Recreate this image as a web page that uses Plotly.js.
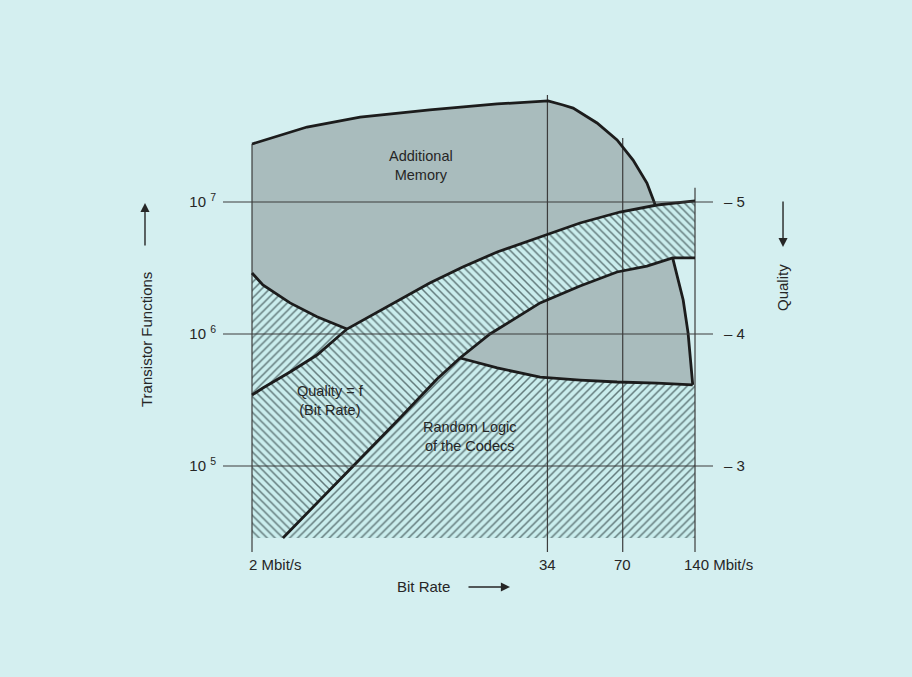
<!DOCTYPE html>
<html>
<head>
<meta charset="utf-8">
<script src="https://cdn.plot.ly/plotly-3.0.1.min.js"></script>
<style>
  html, body { margin: 0; padding: 0; background: #d4eff0; }
  #chart { width: 912px; height: 677px; }
</style>
</head>
<body>
<div id="chart"></div>
<script>
// ---- axis ticks and labels ----
const bitRateTicks = [2, 34, 70, 140];
const bitRateLabels = ['2 Mbit/s', '34', '70', '140 Mbit/s'];
const transistorTicks = [1e5, 1e6, 1e7];
const transistorLabels = ['10 <sup>5</sup>', '10 <sup>6</sup>', '10 <sup>7</sup>'];
const qualityTicks = [3, 4, 5];
const qualityLabels = ['\u2013 3', '\u2013 4', '\u2013 5'];

// tops of the vertical reference lines (transistor functions), bottom shared
const gridTop = [2.75e7, 6.47e7, 3.05e7, 1.28e7];
const gridBottom = 2.23e4;
const hatchBottom = 2.85e4;

// Additional memory: upper boundary
const memX = [2, 3.39, 5.64, 11.0, 21.0, 34.2, 39.5, 43.5, 54.7, 66.3, 77.3, 88.3, 95.4];
const memY = [2.75e7, 3.70e7, 4.40e7, 4.98e7, 5.53e7, 5.83e7, 5.43e7, 5.15e7, 3.97e7, 2.95e7, 2.08e7, 1.39e7, 9.6e6];

// Random logic of the codecs: upper boundary
const logicX = [2, 2.22, 2.88, 3.73, 4.97, 14.7, 21.0, 31.7, 46.5, 66.3, 97.2, 137];
const logicY = [2.90e6, 2.35e6, 1.72e6, 1.35e6, 1.09e6, 6.58e5, 5.53e5, 4.72e5, 4.48e5, 4.33e5, 4.25e5, 4.11e5];

// steep right edge of the lower memory area
const steepX = [113, 125, 131, 137];
const steepY = [3.77e6, 1.81e6, 1.02e6, 4.11e5];

// Quality = f(Bit Rate) band: upper and lower boundary
const bandUpX = [2, 2.22, 2.88, 3.73, 4.97, 7.51, 11.0, 15.1, 21.0, 31.7, 46.5, 68.2, 97.2, 140];
const bandUpY = [3.45e5, 3.90e5, 5.15e5, 6.93e5, 1.09e6, 1.66e6, 2.43e6, 3.22e6, 4.18e6, 5.43e6, 6.93e6, 8.40e6, 9.49e6, 1.02e7];
const bandLowX = [2.69, 3.84, 5.64, 8.27, 11.8, 14.7, 19.6, 26.1, 31.7, 46.5, 66.3, 88.3, 103, 113, 140];
const bandLowY = [2.85e4, 5.53e4, 1.13e5, 2.31e5, 4.56e5, 6.58e5, 1.0e6, 1.39e6, 1.72e6, 2.31e6, 2.95e6, 3.27e6, 3.57e6, 3.77e6, 3.77e6];

// ---- styles ----
const BG = '#d4eff0';
const HATCH_BG = '#caeded';
const HATCH_FG = '#627a7b';
const GREY = '#a9bcbd';
const INK = '#1c1c1c';
const THIN = '#3c3c3c';
const TXT = '#262626';
const FONT = 'Liberation Sans, Arial, Helvetica, sans-serif';

const rev = a => a.slice().reverse();
const xMin = bitRateTicks[0], xMax = bitRateTicks[bitRateTicks.length - 1];

// random logic hatched polygon
const logicPolyX = [xMin, xMax, xMax].concat(rev(logicX));
const logicPolyY = [hatchBottom, hatchBottom, logicY[logicY.length - 1]].concat(rev(logicY));

// grey memory polygon
const memPolyX = memX.concat(steepX, rev(logicX));
const memPolyY = memY.concat(steepY, rev(logicY));

// quality band polygon
const bandPolyX = bandUpX.concat(rev(bandLowX), [xMin]);
const bandPolyY = bandUpY.concat(rev(bandLowY), [hatchBottom]);

// vertical reference lines
const vX = [], vY = [];
bitRateTicks.forEach((b, i) => { vX.push(b, b, null); vY.push(gridBottom, gridTop[i], null); });

const thick = {color: INK, width: 2.8};

const traces = [
  {x: logicPolyX, y: logicPolyY, mode: 'none', fill: 'toself', fillcolor: HATCH_BG,
   fillpattern: {shape: '/', bgcolor: HATCH_BG, fgcolor: HATCH_FG, size: 5.6, solidity: 0.27}, hoverinfo: 'skip'},
  {x: memPolyX, y: memPolyY, mode: 'none', fill: 'toself', fillcolor: GREY, hoverinfo: 'skip'},
  {x: bandPolyX, y: bandPolyY, mode: 'none', fill: 'toself', fillcolor: HATCH_BG,
   fillpattern: {shape: '\\', bgcolor: HATCH_BG, fgcolor: HATCH_FG, size: 5.6, solidity: 0.27}, hoverinfo: 'skip'},
  {x: vX, y: vY, mode: 'lines', line: {color: THIN, width: 1.2}, hoverinfo: 'skip'},
  {x: memX, y: memY, mode: 'lines', line: thick, hoverinfo: 'skip'},
  {x: logicX.slice(0, 5), y: logicY.slice(0, 5), mode: 'lines', line: thick, hoverinfo: 'skip'},
  {x: logicX.slice(5), y: logicY.slice(5), mode: 'lines', line: thick, hoverinfo: 'skip'},
  {x: steepX, y: steepY, mode: 'lines', line: thick, hoverinfo: 'skip'},
  {x: bandUpX, y: bandUpY, mode: 'lines', line: thick, hoverinfo: 'skip'},
  {x: bandLowX, y: bandLowY, mode: 'lines', line: thick, hoverinfo: 'skip'},
  // invisible trace to activate the quality axis
  {x: [xMin], y: [qualityTicks[0]], yaxis: 'y2', mode: 'markers', marker: {opacity: 0}, hoverinfo: 'skip'}
];

const shapes = qualityTicks.map(q => ({
  type: 'line', xref: 'paper', x0: 0, x1: 1, yref: 'y2', y0: q, y1: q,
  line: {color: THIN, width: 1.2}, layer: 'above'
}));

const f15 = {family: FONT, size: 15, color: TXT};
const f14 = {family: FONT, size: 14.5, color: TXT};
const annotations = [];
// bottom tick labels
bitRateTicks.forEach((b, i) => {
  const multi = bitRateLabels[i].length > 4;
  annotations.push({
    xref: 'x', yref: 'paper', x: Math.log10(b), y: -0.0215,
    text: bitRateLabels[i], showarrow: false, yanchor: 'middle',
    xanchor: multi ? 'left' : 'center',
    xshift: multi ? (i === 0 ? -5 : -13) : 0,
    font: f15
  });
});
const txt = (x, y, text, extra) => Object.assign({xref: 'paper', yref: 'paper', x: x, y: y, text: text,
  showarrow: false, xanchor: 'center', yanchor: 'middle', font: f15}, extra || {});
const arrow = (x, y, ax, ay) => ({xref: 'paper', yref: 'paper', x: x, y: y, ax: ax, ay: ay, text: '',
  showarrow: true, arrowhead: 2, arrowsize: 1.3, arrowwidth: 1.4, arrowcolor: TXT, standoff: 0});
// axis titles
annotations.push(txt(0.410, -0.0688, 'Bit Rate'));
annotations.push(arrow(0.5857, -0.0688, -43, 0));
annotations.push(txt(-0.1551, 0.4624, 'Transistor Functions', {textangle: -90}));
annotations.push(arrow(-0.1592, 0.757, 0, 44));
annotations.push(txt(1.1429, 0.5742, 'Quality', {textangle: -90}));
annotations.push(arrow(1.1429, 0.6624, 0, -47));
// region labels
annotations.push(txt(0.404, 0.8366, 'Additional<br>Memory', {font: f14}));
annotations.push(txt(0.2184, 0.3312, 'Quality = f<br>(Bit Rate)', {font: f14}));
annotations.push(txt(0.504, 0.2538, 'Random Logic<br>of the Codecs', {font: f14}));

const layout = {
  width: 912, height: 677, autosize: false,
  margin: {l: 223, r: 199, t: 90, b: 122, pad: 0},
  paper_bgcolor: BG, plot_bgcolor: BG,
  showlegend: false,
  font: {family: FONT, size: 15, color: TXT},
  xaxis: {type: 'log', range: [0.180245, 2.221098], showgrid: false, zeroline: false,
          showline: false, showticklabels: false, ticks: ''},
  yaxis: {type: 'log', range: [4.325758, 7.848485], showgrid: false, zeroline: false, showline: false,
          tickmode: 'array', tickvals: transistorTicks, ticktext: transistorLabels, ticks: '',
          ticklabelstandoff: 6, tickfont: f15},
  yaxis2: {overlaying: 'y', side: 'right', range: [2.325758, 5.848485], showgrid: false, zeroline: false,
           showline: false, tickmode: 'array', tickvals: qualityTicks, ticktext: qualityLabels, ticks: '',
           ticklabelstandoff: 10, tickfont: f15},
  shapes: shapes,
  annotations: annotations
};

Plotly.newPlot('chart', traces, layout, {displayModeBar: false, staticPlot: true});
</script>
</body>
</html>
